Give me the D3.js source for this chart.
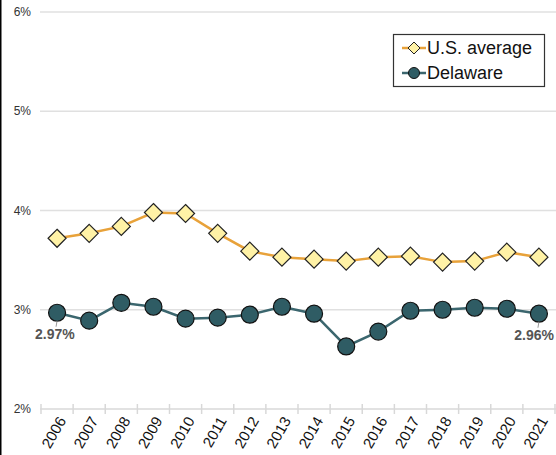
<!DOCTYPE html>
<html lang="en">
<head>
<meta charset="utf-8">
<script src="https://d3js.org/d3.v7.min.js"></script>
<style>
  body { margin: 0; background: #fff; }
  svg { display: block; font-family: "Liberation Sans", Arial, sans-serif; }
</style>
</head>
<body>
<script>
// data
let years = ["2006","2007","2008","2009","2010","2011","2012","2013","2014","2015","2016","2017","2018","2019","2020","2021"];
let usAverage = [3.72, 3.77, 3.84, 3.98, 3.97, 3.77, 3.59, 3.53, 3.51, 3.49, 3.53, 3.54, 3.48, 3.49, 3.58, 3.53];
let delaware = [2.97, 2.89, 3.07, 3.03, 2.91, 2.92, 2.95, 3.03, 2.96, 2.63, 2.78, 2.99, 3.00, 3.02, 3.01, 2.96];
let yTicks = [2, 3, 4, 5, 6];

let w = 556, h = 455;
let svg = d3.select("body").append("svg").attr("width", w).attr("height", h);

let x = d3.scaleBand().domain(years).range([41, 555]);
let y = d3.scaleLinear().domain([2, 6]).range([409, 12]);
let cx = d => x(d) + x.bandwidth() / 2;

// left border
svg.append("line").attr("x1", 0.5).attr("x2", 0.5).attr("y1", 0).attr("y2", h)
   .attr("stroke", "#000").attr("stroke-width", 2);

// grid + y labels
svg.selectAll(".grid").data(yTicks.slice(1)).enter().append("line")
   .attr("x1", 40).attr("x2", w)
   .attr("y1", d => y(d)).attr("y2", d => y(d))
   .attr("stroke", "#e0e0e0").attr("stroke-width", 1.5);

svg.selectAll(".ylab").data(yTicks).enter().append("text")
   .attr("x", 31).attr("y", d => y(d) + 4)
   .attr("text-anchor", "end").attr("font-size", 12).attr("fill", "#333")
   .text(d => d + "%");

// x axis
svg.append("line").attr("x1", 40).attr("x2", w).attr("y1", y(2)).attr("y2", y(2))
   .attr("stroke", "#d8d8d8").attr("stroke-width", 1.5);
let bounds = years.map(d => x(d)).concat([x(years[years.length - 1]) + x.bandwidth()]);
svg.selectAll(".xtick").data(bounds).enter().append("line")
   .attr("x1", d => d).attr("x2", d => d)
   .attr("y1", y(2) - 5).attr("y2", y(2) + 5)
   .attr("stroke", "#d8d8d8").attr("stroke-width", 1.5);

svg.selectAll(".xlab").data(years).enter().append("text")
   .attr("transform", d => `translate(${cx(d) + 5},${y(2) + 9}) rotate(-60)`)
   .attr("text-anchor", "end").attr("dy", "0.35em")
   .attr("font-size", 15).attr("fill", "#111")
   .text(d => d);

// lines
let line = d3.line().x((d, i) => cx(years[i])).y(d => y(d));
svg.append("path").datum(usAverage).attr("d", line)
   .attr("fill", "none").attr("stroke", "#e8a23a").attr("stroke-width", 2.5);
svg.append("path").datum(delaware).attr("d", line)
   .attr("fill", "none").attr("stroke", "#3b666e").attr("stroke-width", 2.5);

// markers
let diamond = (px, py, r) => `M${px},${py - r}L${px + r},${py}L${px},${py + r}L${px - r},${py}Z`;
svg.selectAll(".us").data(usAverage).enter().append("path")
   .attr("d", (d, i) => diamond(cx(years[i]), y(d), 9))
   .attr("fill", "#fff2a6").attr("stroke", "#222").attr("stroke-width", 1.2);
svg.selectAll(".de").data(delaware).enter().append("circle")
   .attr("cx", (d, i) => cx(years[i])).attr("cy", d => y(d)).attr("r", 8.5)
   .attr("fill", "#2f5c64").attr("stroke", "#111").attr("stroke-width", 1.2);

// end labels
let ends = [0, years.length - 1];
ends.forEach((i, k) => {
  let px = cx(years[i]), py = y(delaware[i]);
  svg.append("line").attr("x1", px).attr("x2", px - 1).attr("y1", py + 8).attr("y2", py + 14)
     .attr("stroke", "#999").attr("stroke-width", 1);
  svg.append("text").attr("x", k === 0 ? px - 22 : w - 2)
     .attr("text-anchor", k === 0 ? "start" : "end")
     .attr("y", py + 26)
     .attr("font-size", 14).attr("font-weight", "bold").attr("fill", "#555")
     .text(delaware[i].toFixed(2) + "%");
});

// legend
let lg = svg.append("g");
lg.append("rect").attr("x", 393.5).attr("y", 34.5).attr("width", 151).attr("height", 52)
  .attr("fill", "#fff").attr("stroke", "#333").attr("stroke-width", 1.2);
let legendItems = [
  {name: "U.S. average", color: "#e8a23a"},
  {name: "Delaware", color: "#3b666e"}
];
legendItems.forEach((it, i) => {
  let ly = 48 + i * 25;
  lg.append("line").attr("x1", 402).attr("x2", 426).attr("y1", ly).attr("y2", ly)
    .attr("stroke", it.color).attr("stroke-width", 2.5);
  if (i === 0) {
    lg.append("path").attr("d", diamond(414, ly, 6))
      .attr("fill", "#fff2a6").attr("stroke", "#222").attr("stroke-width", 1);
  } else {
    lg.append("circle").attr("cx", 414).attr("cy", ly).attr("r", 5.5)
      .attr("fill", "#2f5c64").attr("stroke", "#111").attr("stroke-width", 1);
  }
  lg.append("text").attr("x", 427).attr("y", ly + 6)
    .attr("font-size", 18).attr("fill", "#111").text(it.name);
});
</script>
</body>
</html>
